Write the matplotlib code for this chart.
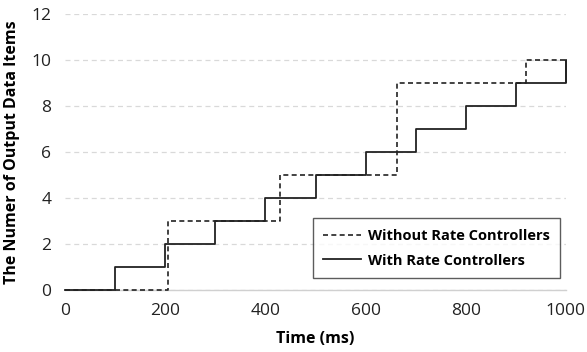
import matplotlib
matplotlib.use("Agg")
import matplotlib.pyplot as plt

plt.rcParams['font.family'] = ['Open Sans', 'DejaVu Sans']

# Data: step change times (ms) and values
without_t = [0, 205, 430, 662, 920, 1000]
without_v = [0, 3, 5, 9, 10, 10]
with_t = [0, 100, 200, 300, 400, 500, 600, 700, 800, 900, 1000]
with_v = [0, 1, 2, 3, 4, 5, 6, 7, 8, 9, 10]

xticks = [0, 200, 400, 600, 800, 1000]
yticks = [0, 2, 4, 6, 8, 10, 12]

fig = plt.figure(figsize=(5.87, 3.52), dpi=100)
ax = fig.add_axes([0.111, 0.176, 0.853, 0.784])

ax.step(without_t, without_v, where='post', color='#222222', linestyle=(0, (3, 2)),
        linewidth=1.2, label='Without Rate Controllers', zorder=3, clip_on=False)
ax.step(with_t, with_v, where='post', color='#222222', linestyle='-',
        linewidth=1.3, label='With Rate Controllers', zorder=4, clip_on=False)
# final rise of the "with" series at the last time point
ax.vlines(with_t[-1], with_v[-2], with_v[-1], color='#222222', linewidth=1.3,
          zorder=4, clip_on=False)

ax.set_xlim(0, 1000)
ax.set_ylim(0, 12)
ax.set_xticks(xticks)
ax.set_yticks(yticks)
ax.grid(axis='y', color='#d9d9d9', linestyle=(0, (4, 3)), linewidth=0.9, zorder=0)
ax.set_axisbelow(True)
for s in ['top', 'right', 'left']:
    ax.spines[s].set_visible(False)
ax.spines['bottom'].set_color('#d0d0d0')
ax.spines['bottom'].set_linewidth(1.0)
ax.tick_params(axis='both', length=0, labelsize=12.5, colors='#222222', pad=9)
ax.tick_params(axis='y', pad=10)

ax.set_xlabel('Time (ms)', fontsize=11.5, fontweight='bold', labelpad=9)
ax.set_ylabel('The Numer of Output Data Items', fontsize=11.5, fontweight='bold', labelpad=8)

leg = ax.legend(loc='lower right', bbox_to_anchor=(1.003, 0.018), frameon=True, fancybox=False,
                edgecolor='#333333', prop={'weight': 'bold', 'size': 10.5},
                handlelength=2.6, handletextpad=0.5, borderpad=0.7, labelspacing=0.75)
leg.get_frame().set_linewidth(1.0)

fig.savefig('out.png', dpi=100)
